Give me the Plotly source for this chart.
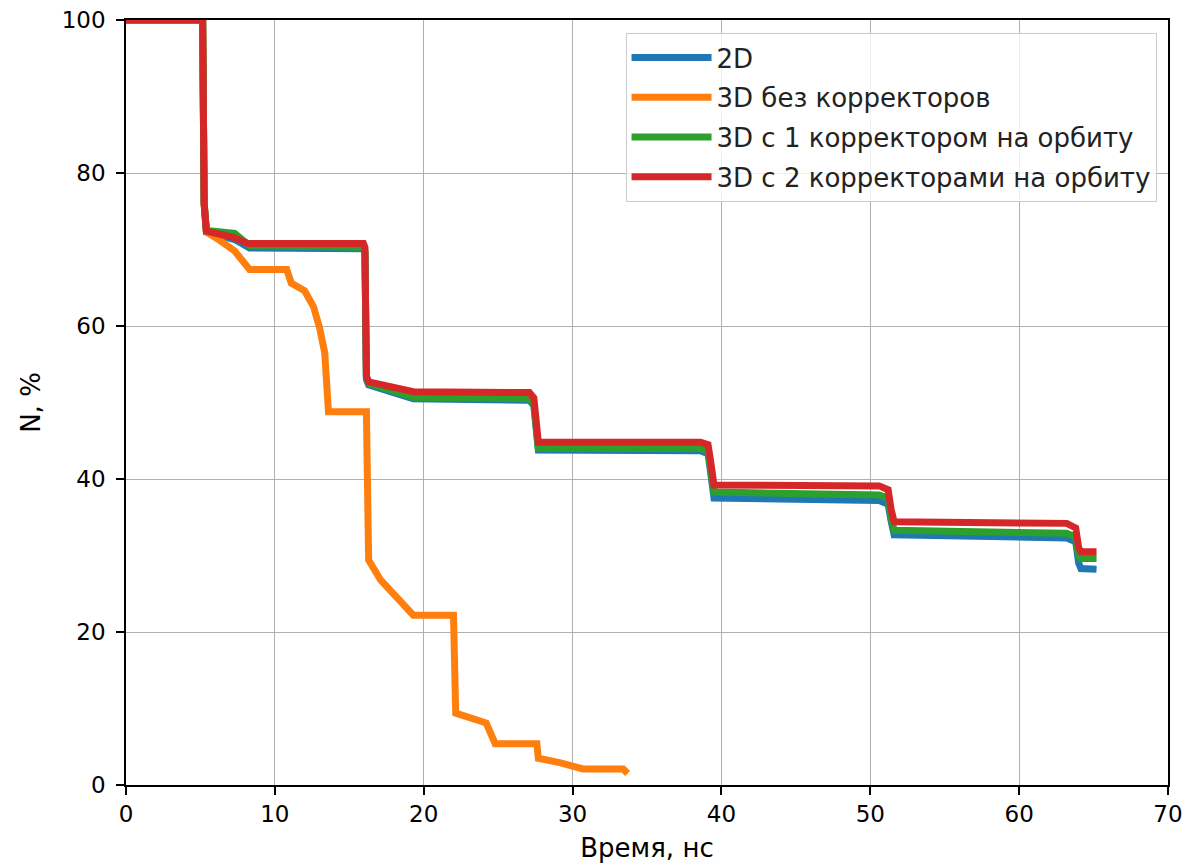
import plotly.graph_objects as go

# Время, нс / доля частиц N, %
t_2d = [0, 5.15, 5.25, 5.4, 7.3, 8.3, 15.95, 16.05, 16.15, 16.3, 19.3, 27.1, 27.4, 27.55, 27.7,
        38.6, 39.1, 39.3, 39.5, 50.6, 51.2, 51.4, 51.6, 63.2, 63.8, 64.0, 64.15, 65.2]
n_2d = [100, 100, 76, 72.3, 71.3, 70.2, 70.1, 69.6, 53.0, 52.3, 50.5, 50.3, 49.6, 45.2, 43.8,
        43.7, 43.3, 40.5, 37.5, 37.2, 36.7, 34.5, 32.7, 32.3, 31.8, 29.0, 28.3, 28.2]

t_3d_0 = [0, 5.15, 5.25, 5.4, 6.3, 7.3, 8.3, 10.8, 11.1, 12.0, 12.6, 13.0, 13.35, 13.6, 16.15,
          16.3, 17.1, 18.4, 19.3, 22.0, 22.15, 24.2, 24.8, 27.6, 27.7, 29.2, 30.7, 33.4, 33.7]
n_3d_0 = [100, 100, 76, 72.3, 71.2, 69.8, 67.4, 67.4, 65.6, 64.6, 62.5, 59.8, 56.5, 48.8, 48.8,
          29.4, 26.8, 24.2, 22.2, 22.2, 9.4, 8.1, 5.4, 5.4, 3.5, 2.9, 2.1, 2.1, 1.5]

t_3d_1 = [0, 5.15, 5.25, 5.4, 7.3, 8.3, 15.95, 16.05, 16.15, 16.3, 19.3, 27.1, 27.4, 27.55, 27.7,
          38.6, 39.1, 39.3, 39.5, 50.6, 51.2, 51.4, 51.6, 63.2, 63.8, 64.0, 64.15, 65.2]
n_3d_1 = [100, 100, 76, 72.5, 72.1, 70.5, 70.3, 69.8, 53.3, 52.5, 50.7, 50.5, 49.8, 45.5, 44.0,
          44.0, 43.6, 41.0, 38.3, 37.9, 37.5, 35.0, 33.3, 32.9, 32.4, 30.0, 29.6, 29.6]

t_3d_2 = [0, 5.15, 5.25, 5.4, 7.2, 8.2, 15.95, 16.05, 16.15, 16.3, 19.3, 27.1, 27.4, 27.55, 27.7,
          38.6, 39.1, 39.3, 39.5, 50.6, 51.2, 51.4, 51.6, 63.2, 63.8, 64.0, 64.15, 65.2]
n_3d_2 = [100, 100, 76, 72.4, 71.6, 70.8, 70.8, 70.3, 53.5, 52.7, 51.4, 51.3, 50.6, 46.0, 44.8,
          44.8, 44.5, 42.0, 39.2, 39.1, 38.6, 36.0, 34.4, 34.2, 33.6, 31.0, 30.5, 30.5]

x_ticks = [0, 10, 20, 30, 40, 50, 60, 70]
y_ticks = [0, 20, 40, 60, 80, 100]

series = [
    ("2D", t_2d, n_2d, "#1f77b4"),
    ("3D без корректоров", t_3d_0, n_3d_0, "#ff7f0e"),
    ("3D с 1 корректором на орбиту", t_3d_1, n_3d_1, "#2ca02c"),
    ("3D с 2 корректорами на орбиту", t_3d_2, n_3d_2, "#d62728"),
]

FONT = "DejaVu Sans"
fig = go.Figure()
for name, t, n, color in series:
    fig.add_trace(go.Scatter(
        x=t, y=n, mode="lines", name=name, legendgroup=name,
        line=dict(color=color, width=7),
    ))

axis_common = dict(
    showline=True, mirror=True, linecolor="black", linewidth=1.5,
    ticks="outside", ticklen=8, tickwidth=1.5, tickcolor="black",
    showgrid=True, gridcolor="#b0b0b0", gridwidth=1.3, zeroline=False,
    tickfont=dict(family=FONT, size=23, color="black"),
    automargin=False,
)

fig.update_layout(
    width=1189, height=868,
    margin=dict(l=126, r=21, t=20, b=83),
    paper_bgcolor="white", plot_bgcolor="white",
    font=dict(family=FONT, size=23, color="black"),
    xaxis=dict(range=[0, 70], tickvals=x_ticks, **axis_common,
               title=dict(text="Время, нс", font=dict(family=FONT, size=26), standoff=12)),
    yaxis=dict(range=[0, 100], tickvals=y_ticks, ticklabelstandoff=6, **axis_common,
               title=dict(text="N, %", font=dict(family=FONT, size=26), standoff=14)),
    legend=dict(
        x=0.989, y=0.983, xanchor="right", yanchor="top",
        bgcolor="rgba(255,255,255,0.8)", bordercolor="#cccccc", borderwidth=1,
        font=dict(family=FONT, size=26, color="#222222"),
        tracegroupgap=3, itemwidth=80,
    ),
)

fig.write_html("out.html")
